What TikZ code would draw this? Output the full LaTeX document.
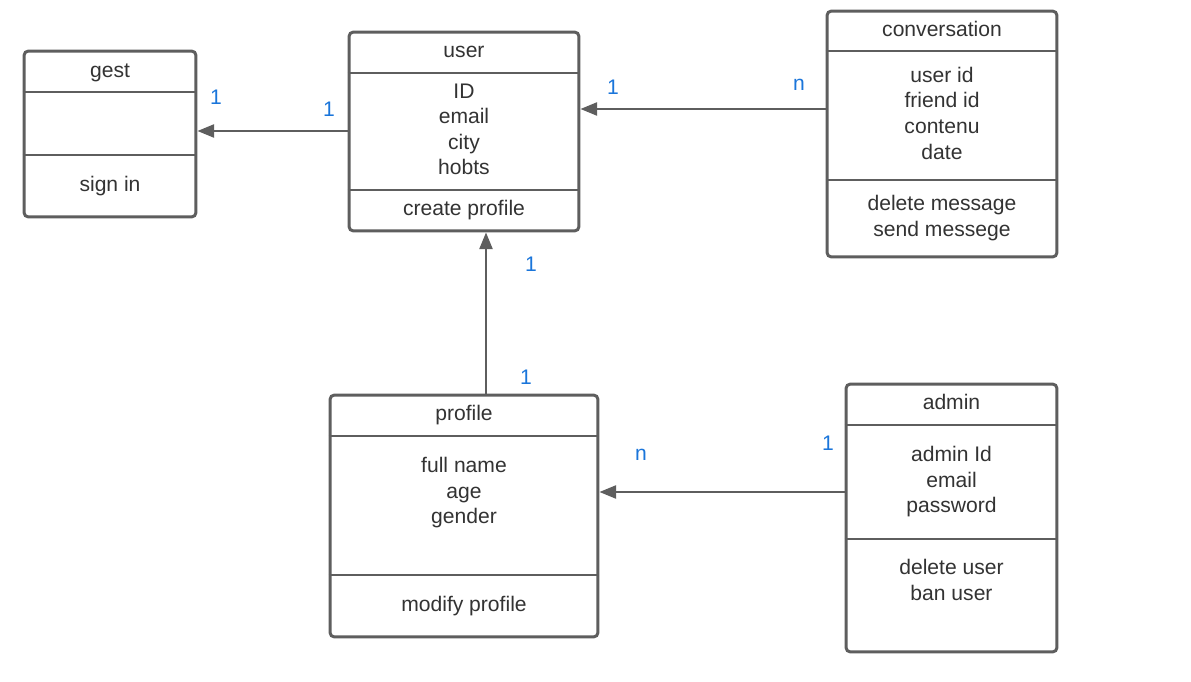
\documentclass[tikz,border=0pt]{standalone}
\usepackage{fontspec}
\setmainfont{Liberation Sans}
\usetikzlibrary{arrows.meta}
\definecolor{edgegray}{HTML}{5E5E5E}
\definecolor{txtgray}{HTML}{333333}
\definecolor{lblblue}{HTML}{1A75DA}
\begin{document}
\begin{tikzpicture}[x=0.02cm,y=-0.02cm,
  classbox/.style={draw=edgegray, line width=1.7pt, rounded corners=2.5pt, inner sep=0pt, fill=white},
  divider/.style={draw=edgegray, line width=1.7pt},
  txt/.style={anchor=base, text=txtgray, font=\fontsize{12}{14.5}\selectfont, inner sep=0pt},
  lbl/.style={anchor=base, text=lblblue, font=\fontsize{12}{14.5}\selectfont, inner sep=0pt},
  conn/.style={draw=edgegray, line width=1.1pt, -{Triangle[length=9.5pt,width=7.5pt]}}]
\useasboundingbox (0,0) rectangle (1191,682);
% boxes
\node[classbox, minimum width=3.44cm, minimum height=3.32cm] (gest) at (110,134) {};
\node[classbox, minimum width=4.60cm, minimum height=3.98cm] (user) at (464,131.5) {};
\node[classbox, minimum width=4.60cm, minimum height=4.92cm] (conv) at (942,134) {};
\node[classbox, minimum width=5.36cm, minimum height=4.84cm] (profile) at (464,516) {};
\node[classbox, minimum width=4.22cm, minimum height=5.36cm] (admin) at (951.5,518) {};
% dividers
\draw[divider] (gest.west |- 0,92) -- (gest.east |- 0,92);
\draw[divider] (gest.west |- 0,155) -- (gest.east |- 0,155);
\draw[divider] (user.west |- 0,73) -- (user.east |- 0,73);
\draw[divider] (user.west |- 0,190) -- (user.east |- 0,190);
\draw[divider] (conv.west |- 0,51) -- (conv.east |- 0,51);
\draw[divider] (conv.west |- 0,180) -- (conv.east |- 0,180);
\draw[divider] (profile.west |- 0,436) -- (profile.east |- 0,436);
\draw[divider] (profile.west |- 0,575) -- (profile.east |- 0,575);
\draw[divider] (admin.west |- 0,425) -- (admin.east |- 0,425);
\draw[divider] (admin.west |- 0,539) -- (admin.east |- 0,539);
% texts
\node[txt] (gestT) at (110,77.5) {gest};
\node[txt] (gestM) at (110,191.5) {sign in};
\node[txt] (userT) at (464,57.5) {user};
\node[txt] (userA1) at (464,98.5) {ID};
\node[txt] (userA2) at (464,123.5) {email};
\node[txt] (userA3) at (464,149.5) {city};
\node[txt] (userA4) at (464,174.5) {hobts};
\node[txt] (userM) at (464,215.5) {create profile};
\node[txt] (convT) at (942,36.5) {conversation};
\node[txt] (convA1) at (942,82.5) {user id};
\node[txt] (convA2) at (942,107.5) {friend id};
\node[txt] (convA3) at (942,133.5) {contenu};
\node[txt] (convA4) at (942,159.5) {date};
\node[txt] (convM1) at (942,210.5) {delete message};
\node[txt] (convM2) at (942,236.5) {send messege};
\node[txt] (profT) at (464,420.5) {profile};
\node[txt] (profA1) at (464,472.5) {full name};
\node[txt] (profA2) at (464,498.5) {age};
\node[txt] (profA3) at (464,523.5) {gender};
\node[txt] (profM) at (464,611.5) {modify profile};
\node[txt] (admT) at (951.5,409.5) {admin};
\node[txt] (admA1) at (951.5,461.5) {admin Id};
\node[txt] (admA2) at (951.5,487.5) {email};
\node[txt] (admA3) at (951.5,512.5) {password};
\node[txt] (admM1) at (951.5,574.5) {delete user};
\node[txt] (admM2) at (951.5,600.5) {ban user};
% connectors
\draw[conn] (user.west |- 0,131) -- (gest.east |- 0,131);
\draw[conn] (conv.west |- 0,109) -- (user.east |- 0,109);
\draw[conn] (profile.north -| 486,0) -- (user.south -| 486,0);
\draw[conn] (admin.west |- 0,492) -- (profile.east |- 0,492);
% multiplicities
\node[lbl] (m1) at (216,104.5) {1};
\node[lbl] (m2) at (329,116.5) {1};
\node[lbl] (m3) at (613,94.5) {1};
\node[lbl] (m4) at (799,90.5) {n};
\node[lbl] (m5) at (531,271.5) {1};
\node[lbl] (m6) at (526,384.5) {1};
\node[lbl] (m7) at (641,460.5) {n};
\node[lbl] (m8) at (828,450.5) {1};
\end{tikzpicture}
\end{document}
